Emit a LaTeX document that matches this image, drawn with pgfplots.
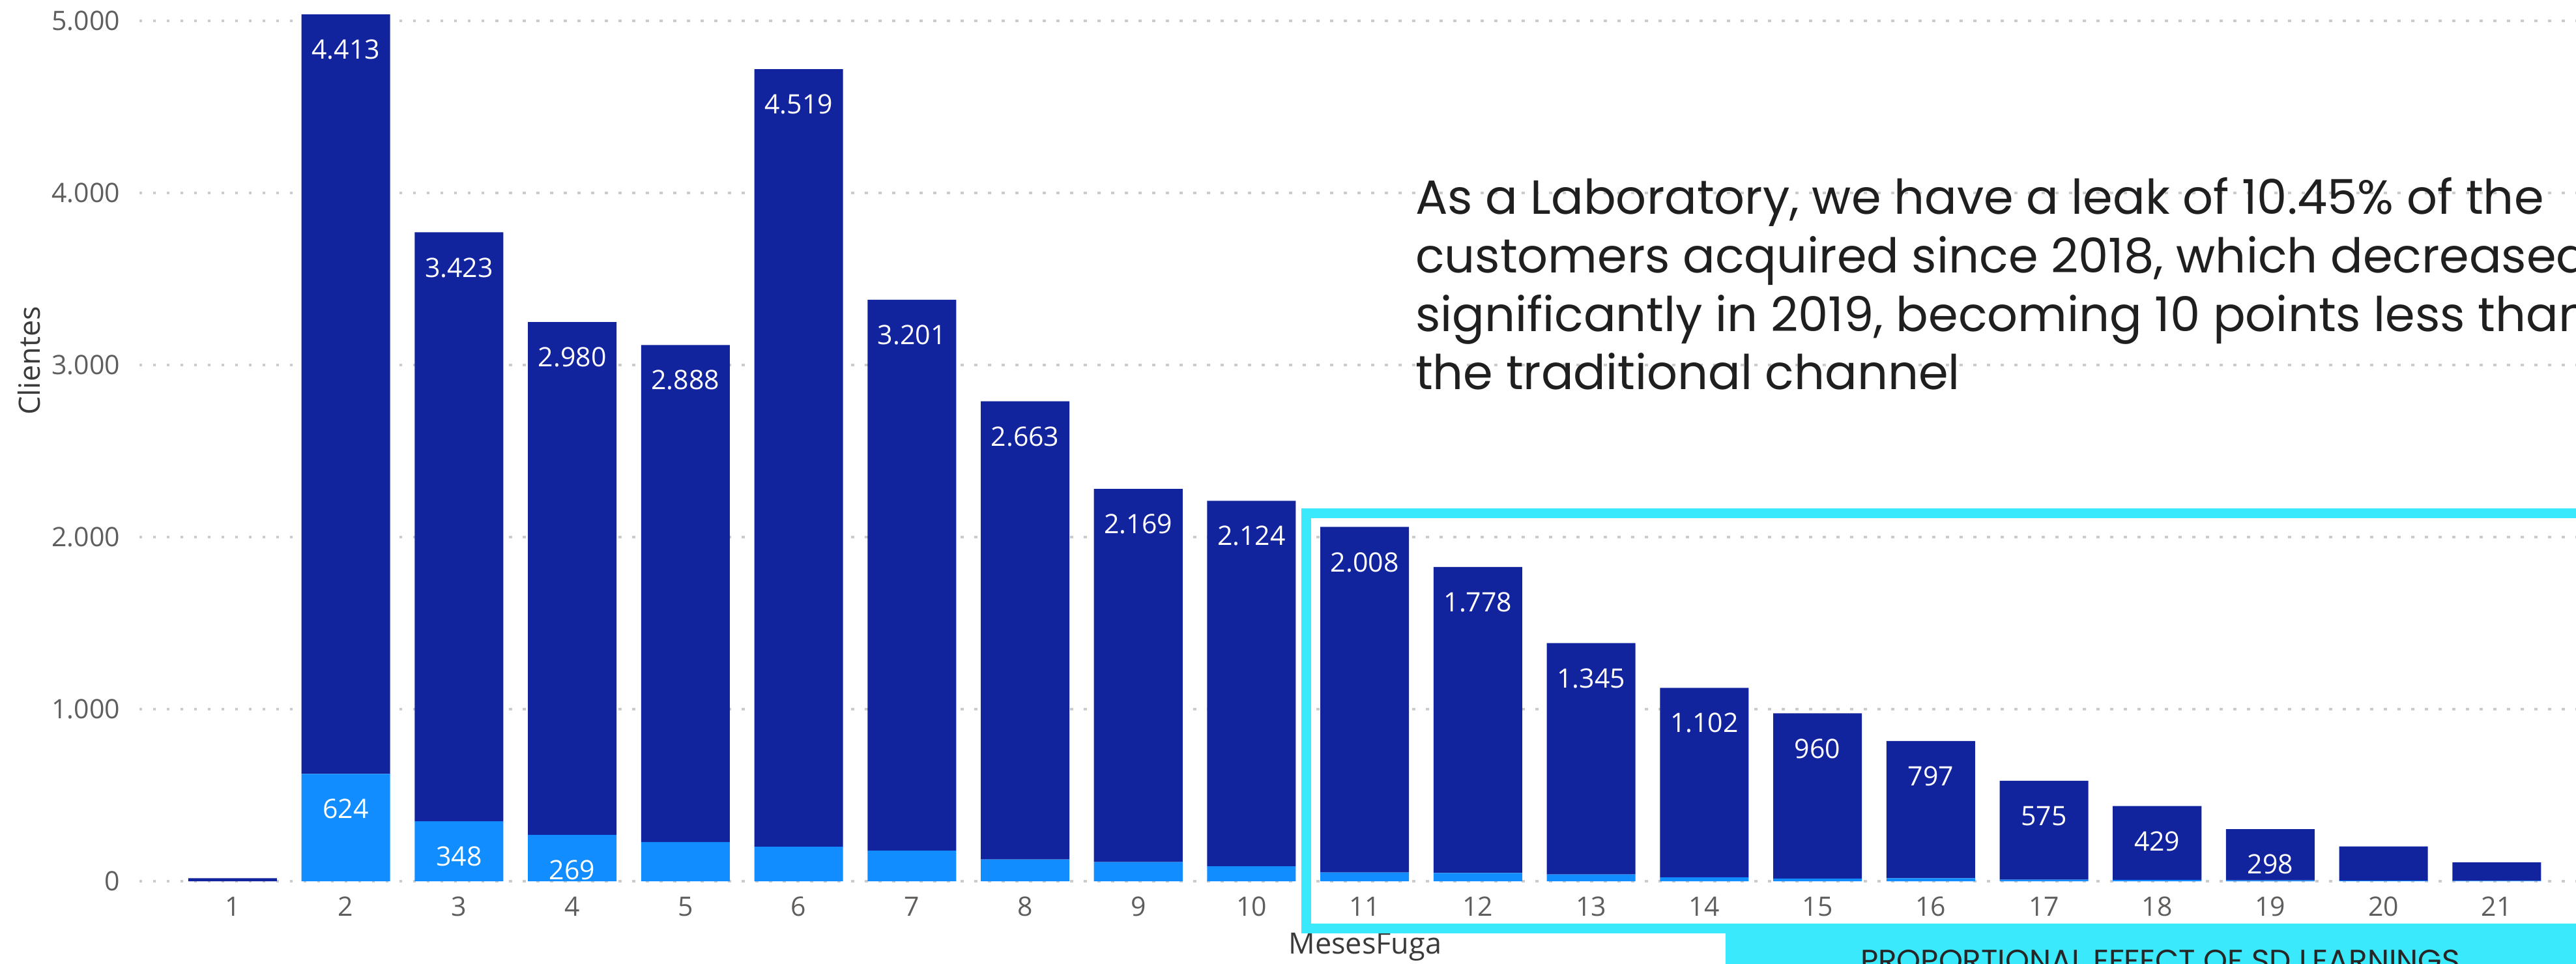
\documentclass[border=0pt]{standalone}
\usepackage{pgfplots}
\pgfplotsset{compat=1.18}
\usepackage{fontspec}
\setmainfont{Open Sans}
\newfontfamily\pop{Poppins}
\definecolor{darkbar}{HTML}{12239E}
\definecolor{lightbar}{HTML}{118DFF}
\definecolor{cyanbox}{HTML}{3AE9FB}
\definecolor{tickc}{HTML}{605E5C}
\definecolor{labc}{HTML}{3A3A3A}
\begin{document}
\begin{tikzpicture}
\useasboundingbox (0,0) rectangle (790.6pt,295.6pt);
\clip (0,0) rectangle (790.6pt,295.6pt);
\begin{axis}[
  at={(42.8pt,25.2pt)}, anchor=south west,
  scale only axis, width=747.8pt, height=269.3pt,
  xmin=0.177, xmax=21.70, ymin=0, ymax=5100,
  ybar stacked, bar width=0.783,
  axis line style={draw=none}, major tick length=0pt,
  ymajorgrids, grid style={gray!40, line width=0.8pt, dash pattern=on 0.9pt off 3.3pt},
  ytick={0,1000,2000,3000,4000,5000},
  yticklabels={0,1.000,2.000,3.000,4.000,5.000},
  xtick={1,...,21},
  /pgf/number format/assume math mode=true,
  yticklabel style={anchor=east, inner sep=0pt, xshift=-5.8pt, text=tickc, font=\fontsize{8.2}{9}\selectfont},
  xticklabel style={anchor=north, inner sep=0pt, yshift=-4.6pt, text=tickc, font=\fontsize{8.2}{9}\selectfont},
  xlabel={MesesFuga}, ylabel={Clientes},
  every axis x label/.style={at={(axis description cs:0.503,-0.075)}, anchor=center, text=labc, font=\fontsize{9}{10}\selectfont},
  every axis y label/.style={at={(axis description cs:-0.0452,0.593)}, rotate=90, anchor=center, text=labc, font=\fontsize{9}{10}\selectfont},
  point meta=explicit symbolic,
  visualization depends on={rawy \as \rawy},
  nodes near coords,
  every node near coord/.style={anchor=center, yshift={\rawy*0.026402-10.8}, text=white, font=\fontsize{8.2}{9}\selectfont},
]
\addplot[fill=lightbar, draw=none] coordinates {
 (1,0) [{}] (2,624) [624] (3,348) [348] (4,269) [269] (5,228) [{}] (6,200) [{}]
 (7,178) [{}] (8,126) [{}] (9,111) [{}] (10,87) [{}] (11,51) [{}] (12,48) [{}]
 (13,39) [{}] (14,22) [{}] (15,16) [{}] (16,18) [{}] (17,9) [{}] (18,8) [{}]
 (19,5) [{}] (20,3) [{}] (21,2) [{}]
};
\addplot[fill=darkbar, draw=none] coordinates {
 (1,18) [{}] (2,4413) [4.413] (3,3423) [3.423] (4,2980) [2.980] (5,2888) [2.888]
 (6,4519) [4.519] (7,3201) [3.201] (8,2663) [2.663] (9,2169) [2.169] (10,2124) [2.124]
 (11,2008) [2.008] (12,1778) [1.778] (13,1345) [1.345] (14,1102) [1.102] (15,960) [960]
 (16,797) [797] (17,575) [575] (18,429) [429] (19,298) [298] (20,199) [{}] (21,107) [{}]
};
\end{axis}
\draw[cyanbox, line width=3pt] (400.9pt,10.8pt) rectangle (805pt,138.1pt);
\fill[cyanbox] (529.6pt,-5pt) rectangle (805pt,10.8pt);
\node[anchor=north, inner sep=0pt, text=black!85, font=\pop\fontsize{9.4}{11}\selectfont] at (663pt,4.4pt) {PROPORTIONAL EFFECT OF SD LEARNINGS};
\begin{scope}[every node/.style={anchor=base west, inner sep=0pt, text=black!88, font=\pop\fontsize{14.7}{18}\selectfont}]
\node at (434.2pt,230pt) {As a Laboratory, we have a leak of 10.45\% of the};
\node at (434.2pt,212pt) {customers acquired since 2018, which decreased};
\node at (434.2pt,194pt) {significantly in 2019, becoming 10 points less than};
\node at (434.2pt,176.2pt) {the traditional channel};
\end{scope}
\end{tikzpicture}
\end{document}
